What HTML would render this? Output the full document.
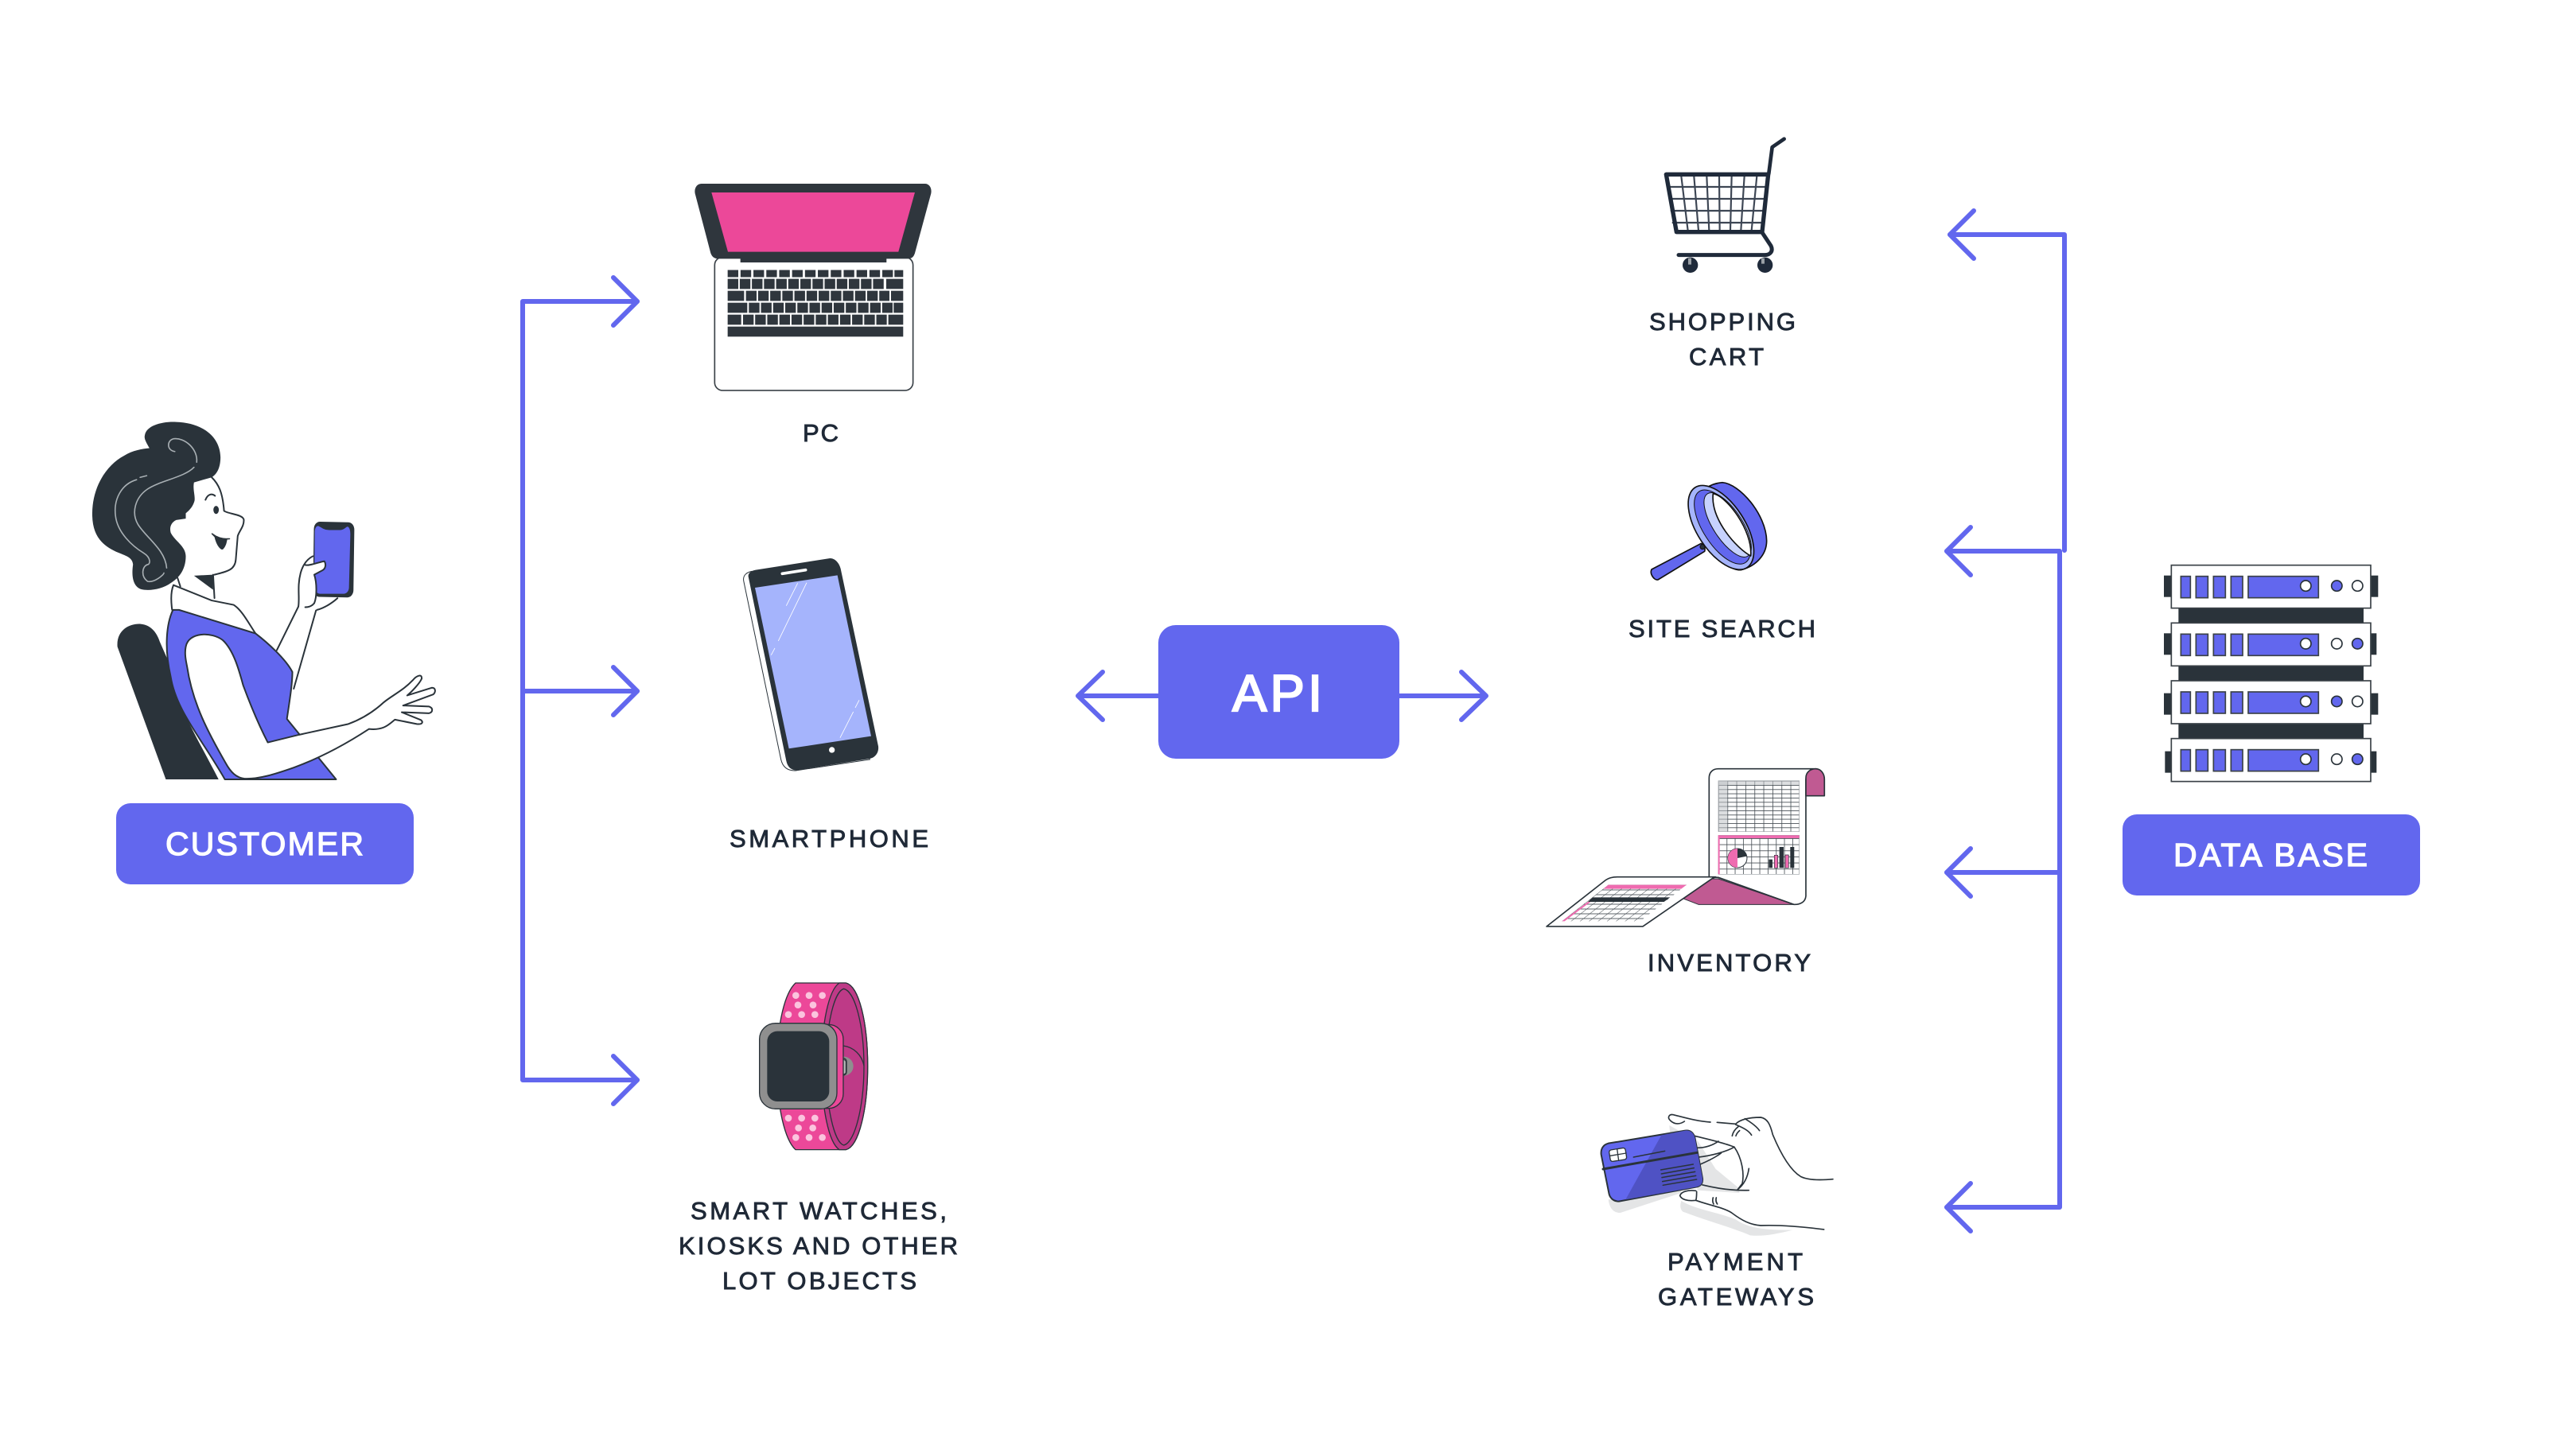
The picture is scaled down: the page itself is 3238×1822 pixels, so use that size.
<!DOCTYPE html>
<html>
<head>
<meta charset="utf-8">
<style>
html,body{margin:0;padding:0;background:#fff;}
svg{display:block;}
.l{font-family:"Liberation Sans",sans-serif;font-size:31px;fill:#1f2937;stroke:#1f2937;stroke-width:.9;}
.b{font-family:"Liberation Sans",sans-serif;font-size:41px;fill:#fff;stroke:#fff;stroke-width:1.3;}
.ns *{vector-effect:non-scaling-stroke;}
</style>
</head>
<body>
<svg xmlns="http://www.w3.org/2000/svg" width="3238" height="1822" viewBox="0 0 3238 1822">
<defs>
<pattern id="g1" width="34" height="16" patternUnits="userSpaceOnUse" x="660" y="95"><path d="M0 1.2H34M1.2 0V16" stroke="#444c52" stroke-width="2.4" fill="none"/></pattern>
<pattern id="g2" width="31" height="23" patternUnits="userSpaceOnUse" x="660" y="312"><path d="M0 1.2H31M1.2 0V23" stroke="#444c52" stroke-width="2.4" fill="none"/></pattern>
<pattern id="g3" width="34" height="18" patternUnits="userSpaceOnUse" patternTransform="translate(245 488) skewX(-52)"><path d="M0 1.2H34M1.2 0V18" stroke="#444c52" stroke-width="2.4" fill="none"/></pattern>
</defs>
<rect width="3238" height="1822" fill="#fff"/>

<!-- connectors -->
<g fill="none" stroke="#6267ee" stroke-width="6" stroke-linecap="round" stroke-linejoin="round">
<path d="M801 379H657V1358H801M657 869H801"/>
<path d="M771 349L801 379L771 409M771 839L801 869L771 899M771 1328L801 1358L771 1388"/>
<path d="M1456 875H1355M1386 845L1355 875L1386 905"/>
<path d="M1759 875H1868M1837 845L1868 875L1837 905"/>
<path d="M2451 295H2595V692M2447 693H2589V1518H2447M2447 1097H2589"/>
<path d="M2481 265L2451 295L2481 325M2477 663L2447 693L2477 723M2477 1067L2447 1097L2477 1127M2477 1488L2447 1518L2477 1548"/>
</g>

<!-- boxes -->
<rect x="146" y="1010" width="374" height="102" rx="18" fill="#6267ee"/>
<rect x="2668" y="1024" width="374" height="102" rx="18" fill="#6267ee"/>
<rect x="1456" y="786" width="303" height="168" rx="22" fill="#6267ee"/>
<text class="b" x="208" y="1075" textLength="249" lengthAdjust="spacing">CUSTOMER</text>
<text class="b" x="2732" y="1089" textLength="244" lengthAdjust="spacing">DATA BASE</text>
<text class="b" style="font-size:65px;stroke-width:2.2" x="1549" y="894" textLength="113" lengthAdjust="spacing">API</text>

<!-- labels -->
<text class="l" x="1009" y="555" textLength="45" lengthAdjust="spacing">PC</text>
<text class="l" x="917" y="1065" textLength="250" lengthAdjust="spacing">SMARTPHONE</text>
<text class="l" x="868" y="1533" textLength="322" lengthAdjust="spacing">SMART WATCHES,</text>
<text class="l" x="853" y="1577" textLength="351" lengthAdjust="spacing">KIOSKS AND OTHER</text>
<text class="l" x="908" y="1621" textLength="244" lengthAdjust="spacing">LOT OBJECTS</text>
<text class="l" x="2073" y="415" textLength="184" lengthAdjust="spacing">SHOPPING</text>
<text class="l" x="2123" y="459" textLength="94" lengthAdjust="spacing">CART</text>
<text class="l" x="2047" y="801" textLength="235" lengthAdjust="spacing">SITE SEARCH</text>
<text class="l" x="2071" y="1221" textLength="205" lengthAdjust="spacing">INVENTORY</text>
<text class="l" x="2096" y="1597" textLength="170" lengthAdjust="spacing">PAYMENT</text>
<text class="l" x="2084" y="1641" textLength="196" lengthAdjust="spacing">GATEWAYS</text>

<!-- customer -->
<g class="ns" transform="translate(60 480) scale(.3436 .4219)" stroke-linejoin="round" stroke-linecap="round">
<path d="M255 790C250 740 300 720 340 722C380 725 400 750 410 775L445 840C460 950 540 1050 625 1185H432Z" fill="#2a333a"/>
<path d="M838 800L917 670M982 680L900 915" fill="none" stroke="#2a333a" stroke-width="2"/>
<path d="M458 680C435 720 425 790 450 880C470 980 560 1060 648 1185H1055L920 1050L875 1005C885 950 895 900 895 865C870 825 800 775 760 750L480 678Z" fill="#6267ee" stroke="#2a333a" stroke-width="2"/>
<path d="M460 606L600 652L680 665C710 680 735 720 760 750L480 680H455C450 650 450 625 460 606Z" fill="#fff" stroke="#2a333a" stroke-width="2"/>
<path d="M535 300L600 285C625 305 640 330 645 385C665 395 710 395 717 410C720 430 700 445 695 460L688 530C685 560 660 565 610 575L535 578L475 590L450 500L445 430Z" fill="#fff"/>
<path d="M600 285C625 305 640 330 645 385C665 395 710 395 717 410C720 430 700 445 695 460L688 530C685 560 660 565 610 575" fill="none" stroke="#2a333a" stroke-width="2"/>
<path d="M535 578L605 575V620Z" fill="#2a333a"/>
<path d="M605 575L610 645M475 585L485 610" fill="none" stroke="#2a333a" stroke-width="2"/>
<path d="M355 160C360 130 420 118 470 120C560 122 630 160 632 225C632 255 620 275 600 285L535 300C530 320 540 340 537 355C530 375 515 385 505 392V408L470 412C450 420 445 435 450 450C465 475 505 490 505 520C505 560 480 585 450 600C420 618 370 625 340 618C315 610 305 585 312 545C310 525 290 520 260 510C200 490 165 460 163 400C160 320 210 250 280 220C310 205 345 200 372 198C360 180 352 170 355 160Z" fill="#2a333a"/>
<g fill="none" stroke="#a9b0b4" stroke-width="1.6">
<path d="M338 285L362 280M325 292C270 305 240 350 248 400C255 450 310 490 350 510C380 525 375 545 365 545C345 550 340 580 365 595C390 600 425 575 425 570"/>
<path d="M535 255C500 285 410 295 365 320C320 345 305 390 330 425C360 465 430 500 435 555"/>
<path d="M545 240C550 200 500 165 460 170C435 175 435 205 465 208"/>
</g>
<ellipse cx="616" cy="382" rx="10" ry="12" fill="#2a333a"/>
<path d="M577 352C585 335 600 332 612 340" fill="none" stroke="#2a333a" stroke-width="2"/>
<path d="M601 453C620 465 640 470 665 468H655C652 480 650 490 640 498C635 500 620 490 612 462Z" fill="#2a333a" stroke="#2a333a" stroke-width="1.5"/>
<path d="M505 790C515 745 600 745 640 770C680 800 700 860 715 905C740 960 770 1020 805 1075L920 1052L1100 1020C1150 1005 1190 985 1230 955C1260 935 1300 920 1335 890C1350 875 1370 870 1368 885C1360 900 1330 925 1315 935L1405 912C1420 912 1420 925 1410 932L1300 965L1395 968C1410 972 1410 985 1395 988L1295 985L1365 1008C1375 1015 1370 1022 1350 1020L1270 1007C1250 1020 1230 1040 1175 1035C1100 1075 1000 1120 900 1150C830 1170 770 1185 720 1183C690 1180 670 1165 650 1135C590 1050 530 960 510 850C505 830 500 810 505 790Z" fill="#fff" stroke="#2a333a" stroke-width="2"/>
<rect x="972" y="418" width="148" height="224" rx="22" fill="#2a333a" transform="rotate(1 1050 530)"/>
<path d="M990 430C1003 435 1010 442 1030 442H1070C1085 442 1090 432 1098 432C1105 435 1107 445 1107 455L1102 615C1100 628 1090 632 1080 632H995C982 630 975 620 975 610L977 445C979 432 985 430 990 430Z" fill="#6267ee"/>
<path d="M917 670C922 640 912 610 925 570C932 550 945 530 970 520L973 545L1012 535C1020 545 1015 558 1005 562L975 575C985 600 985 640 975 660L1060 645C1040 660 1010 675 982 680L917 670Z" fill="#fff"/>
<path d="M917 670C922 640 912 610 925 570C932 550 945 530 970 520M940 545C950 552 1000 535 1012 535C1020 545 1015 558 1005 562L975 575C985 600 985 640 975 660C965 670 950 672 942 672M985 680C1010 675 1040 660 1060 645" fill="none" stroke="#2a333a" stroke-width="2"/>
</g>

<!-- laptop -->
<g transform="translate(840 200) scale(.3333)">
<rect x="175" y="370" width="748" height="503" rx="30" fill="#fff" stroke="#3a4147" stroke-width="5"/>
<path d="M125 93H968C985 93 995 110 991 130L930 355C925 370 918 375 905 376H823V390H272V376H188C172 375 165 368 160 355L101 130C97 110 108 93 125 93Z" fill="#2f363d"/>
<polygon points="163,126 930,126 868,350 225,350" fill="#ec4899"/>
<g stroke="#2f363d" fill="none">
<line x1="224" x2="854" y1="432" y2="432" stroke-width="27" stroke-dasharray="40 8.6"/>
<rect x="853" y="419" width="33" height="26" fill="#2f363d" stroke="none"/>
<line x1="224" x2="815" y1="471" y2="471" stroke-width="38" stroke-dasharray="40 5.7"/>
<rect x="822" y="452" width="64" height="38" fill="#2f363d" stroke="none"/>
<rect x="224" y="497" width="62" height="38" fill="#2f363d" stroke="none"/>
<line x1="293" x2="834" y1="516" y2="516" stroke-width="38" stroke-dasharray="40 5.7"/>
<rect x="840" y="497" width="46" height="38" fill="#2f363d" stroke="none"/>
<rect x="224" y="542" width="74" height="38" fill="#2f363d" stroke="none"/>
<line x1="304" x2="846" y1="561" y2="561" stroke-width="38" stroke-dasharray="40 5.7"/>
<rect x="850" y="542" width="36" height="38" fill="#2f363d" stroke="none"/>
<rect x="224" y="587" width="51" height="38" fill="#2f363d" stroke="none"/>
<line x1="282" x2="824" y1="606" y2="606" stroke-width="38" stroke-dasharray="40 5.7"/>
<rect x="830" y="587" width="56" height="38" fill="#2f363d" stroke="none"/>
<rect x="224" y="632" width="662" height="38" fill="#2f363d" stroke="none"/>
</g>
</g>

<!-- phone -->
<g transform="translate(900 680) scale(.3333)">
<path d="M135 115C110 120 100 135 105 155L245 825C252 855 270 868 300 867L580 825L300 300Z" fill="#fff" stroke="#2a333a" stroke-width="3"/>
<path d="M150 110L430 66C450 66 465 85 470 105L612 775C615 800 600 818 580 822L310 865C285 868 270 855 265 830L122 135C120 122 135 112 150 110Z" fill="#2a333a"/>
<polygon points="147,177 458,130 585,737 275,784" fill="#a5b4fc"/>
<line x1="250" y1="124" x2="338" y2="110" stroke="#fff" stroke-width="11" stroke-linecap="round"/>
<circle cx="437" cy="789" r="11" fill="#fff"/>
<path d="M308 160L265 245M342 158L235 378M222 405L208 431M540 601L525 630M518 645L468 743" stroke="#fff" stroke-width="2.5" fill="none"/>
</g>

<!-- watch -->
<g transform="translate(920 1220) scale(.3333)" stroke="#2a333a" stroke-linejoin="round">
<path d="M240 48H430C480 60 512 200 512 362C512 520 480 665 430 677H240C200 640 170 520 170 360C170 200 200 85 240 48Z" fill="#ec4899" stroke-width="4"/>
<path d="M405 48H430C480 60 512 200 512 362C512 520 480 665 430 677H405C365 650 338 520 338 360C338 200 365 75 405 48Z" fill="#be3a87" stroke-width="4"/>
<path d="M422 70C465 80 498 210 498 362C498 510 465 650 422 660C385 650 355 510 355 362C355 210 385 80 422 70Z" fill="none" stroke-width="4"/>
<path d="M420 285C460 290 490 320 498 360" fill="none" stroke-width="4"/>
<g fill="#fbc4de" stroke="none">
<circle cx="241" cy="95" r="13"/><circle cx="291" cy="95" r="13"/><circle cx="341" cy="95" r="13"/>
<circle cx="249" cy="131" r="13"/><circle cx="306" cy="131" r="13"/>
<circle cx="213" cy="167" r="13"/><circle cx="263" cy="167" r="13"/><circle cx="313" cy="167" r="13"/>
<circle cx="213" cy="558" r="13"/><circle cx="263" cy="558" r="13"/><circle cx="313" cy="558" r="13"/>
<circle cx="251" cy="595" r="13"/><circle cx="305" cy="595" r="13"/>
<circle cx="241" cy="631" r="13"/><circle cx="291" cy="631" r="13"/><circle cx="341" cy="631" r="13"/>
</g>
<circle cx="422" cy="362" r="36" fill="#8f8f8f" stroke="none"/>
<rect x="398" y="332" width="34" height="64" rx="12" fill="#8f8f8f" stroke-width="4"/>
<rect x="414" y="338" width="16" height="54" rx="8" fill="#bbb" stroke-width="3"/>
<rect x="300" y="205" width="120" height="316" rx="55" fill="#ec4899" stroke-width="4"/>
<rect x="104" y="200" width="292" height="323" rx="60" fill="#8f8f8f" stroke-width="4"/>
<rect x="133" y="230" width="234" height="265" rx="38" fill="#2a333a" stroke="none"/>
</g>

<!-- cart -->
<g transform="translate(2080 160) scale(.3333)" fill="none" stroke="#1f2a3a" stroke-linejoin="round" stroke-linecap="round">
<path d="M100 185L125 390M148 185L165 390M196 185L205 390M243 185L245 390M290 185L285 390M338 185L325 390M385 185L365 390M50 225H422M56 270H418M62 315H412M68 360H408" stroke="#3d4654" stroke-width="6.5"/>
<path d="M43 178H428L405 395H82Z" stroke-width="16"/>
<path d="M430 175L443 75L488 44" stroke-width="14"/>
<path d="M405 397L438 447C448 468 435 482 415 482H90" stroke-width="15"/>
<circle cx="134" cy="520" r="29" fill="#1f2a3a" stroke="none"/>
<circle cx="416" cy="520" r="29" fill="#1f2a3a" stroke="none"/>
<path d="M132 494V518M408 494V515" stroke="#9aa0a6" stroke-width="12" stroke-linecap="butt"/>
</g>

<!-- magnifier -->
<g transform="translate(2070 590) scale(.3333)" stroke="#111" stroke-width="5" stroke-linejoin="round">
<path d="M18 378L205 280C215 285 222 300 218 310L42 417C28 420 10 395 18 378Z" fill="#6267ee"/>
<circle cx="210" cy="293" r="9" fill="#2a333a" stroke-width="3"/>
<path d="M175 160C175 100 225 55 285 50C350 55 450 170 452 270C452 320 415 365 355 380C290 385 175 240 175 160Z" fill="#6267ee"/>
<ellipse cx="280" cy="220" rx="90" ry="180" transform="rotate(-33 280 220)" fill="#a5b4fc"/>
<ellipse cx="285" cy="218" rx="72" ry="160" transform="rotate(-33 285 218)" fill="#6267ee" stroke-width="3"/>
<ellipse cx="305" cy="210" rx="55" ry="140" transform="rotate(-33 305 210)" fill="#c7d2fe" stroke-width="3"/>
<path d="M250 92C300 100 400 230 392 327C340 300 240 190 250 92Z" fill="#fff"/>
</g>

<!-- inventory -->
<g transform="translate(1940 950) scale(.3333)" stroke-linejoin="round">
<path d="M515 535L610 465H660L945 562H585Z" fill="#c05a92" stroke="#2a333a" stroke-width="3"/>
<path d="M625 458V85C625 62 640 50 660 50H1030L990 90V530C988 552 970 563 945 562L660 460Z" fill="#fff" stroke="#2a333a" stroke-width="5"/>
<path d="M990 152V85C990 62 1008 50 1027 50C1048 50 1060 70 1060 90V152Z" fill="#c05a92" stroke="#2a333a" stroke-width="5"/>
<rect x="660" y="95" width="305" height="192" fill="url(#g1)" stroke="#9a9fa3" stroke-width="2"/>
<rect x="660" y="95" width="34" height="192" fill="#bfc3c6" opacity=".55"/>
<rect x="660" y="95" width="305" height="16" fill="#bfc3c6" opacity=".55"/>
<rect x="660" y="301" width="305" height="147" fill="url(#g2)" stroke="#9a9fa3" stroke-width="2"/>
<rect x="660" y="301" width="305" height="11" fill="#ef6bb0"/>
<rect x="659" y="301" width="6" height="147" fill="#ef6bb0"/>
<circle cx="732" cy="387" r="36" fill="#fff" stroke="#2a333a" stroke-width="3"/>
<path d="M732 387V351A36 36 0 0 1 767 380Z" fill="#2a333a"/>
<path d="M732 387V423A36 36 0 0 1 732 351Z" fill="#ef6bb0"/>
<rect x="850" y="392" width="14" height="32" fill="#2a333a"/>
<rect x="871" y="376" width="13" height="48" fill="#ef6bb0" stroke="#2a333a" stroke-width="2"/>
<rect x="890" y="345" width="16" height="79" fill="#2a333a"/>
<rect x="912" y="375" width="13" height="49" fill="#ef6bb0" stroke="#2a333a" stroke-width="2"/>
<rect x="931" y="345" width="15" height="79" fill="#2a333a"/>
<path d="M12 645L235 470C245 462 260 458 280 458H650L640 462L375 645Z" fill="#fff" stroke="#2a333a" stroke-width="5"/>
<polygon points="245,488 540,488 365,625 70,625" fill="url(#g3)"/>
<polygon points="245,488 540,488 520,503 226,503" fill="#ef6bb0"/>
<polygon points="186,535 478,535 455,552 168,552" fill="#2a333a"/>
<polygon points="168,552 178,552 80,625 70,625" fill="#ef6bb0"/>
</g>

<!-- payment -->
<g transform="translate(2000 1390) scale(.3333)" stroke-linecap="round" stroke-linejoin="round">
<path d="M400 130L470 240L555 310L560 330L400 320Z" fill="#e4e5e6"/>
<path d="M295 75L340 100L300 130ZM65 355L335 300L340 330L110 405C85 405 70 390 65 355ZM340 360C400 395 470 400 545 430C590 460 640 470 760 470C700 485 650 495 600 490C530 460 420 430 345 400C335 390 335 375 340 360Z" fill="#e4e5e6"/>
<g fill="none" stroke="#2a333a" stroke-width="5">
<path d="M450 63C400 60 350 45 310 35C295 32 285 45 300 58C315 72 335 72 352 60M475 64L545 70C565 50 600 45 640 45C665 50 675 70 685 110C710 170 745 240 790 268C820 283 870 282 912 278"/>
<path d="M545 72C575 85 595 95 605 112M580 50C600 62 625 80 635 95M555 80C542 90 535 100 532 115M560 95C552 102 548 108 546 115"/>
<path d="M390 115C430 125 500 140 540 157C570 200 578 260 570 295L552 318M595 238C590 275 575 300 552 318"/>
<path d="M400 160C430 160 460 150 480 135M405 195C450 190 510 175 540 157M412 222C440 210 470 195 490 180"/>
<path d="M420 300C470 312 530 322 595 320M395 322C365 318 340 325 335 340C340 355 365 362 395 358M398 325C398 340 398 350 395 358M395 358C440 375 500 385 530 405C570 435 600 450 640 453C720 450 800 458 878 468M460 348C458 355 458 365 462 372M472 348C470 356 470 364 476 372"/>
</g>
<path d="M65 143L355 95C375 92 388 105 392 125L420 275C422 295 412 305 395 308L105 362C85 362 72 350 68 335L38 185C36 165 45 148 65 143Z" fill="#6267ee" stroke="#2a333a" stroke-width="6"/>
<path d="M130 355L265 112L355 95C375 92 388 105 392 125L420 275C422 295 412 305 395 308Z" fill="#4f52c4"/>
<path d="M45 240L400 178" stroke="#2a333a" stroke-width="9" fill="none"/>
<rect x="70" y="164" width="62" height="44" rx="9" fill="#fff" stroke="#2a333a" stroke-width="4" transform="rotate(-9 100 186)"/>
<path d="M98 164L104 208M72 190L132 180" stroke="#2a333a" stroke-width="4"/>
<path d="M160 195L278 172M263 243L385 222M265 258L388 236M267 272L392 250M269 287L395 265M271 301L398 279" stroke="#2a333a" stroke-width="4.5" fill="none"/>
</g>

<!-- servers -->
<g transform="translate(2710 700) scale(.3333)" stroke-linejoin="miter">
<rect x="85" y="190" width="698" height="64" fill="#2a333a"/>
<rect x="85" y="408" width="698" height="64" fill="#2a333a"/>
<rect x="85" y="626" width="698" height="64" fill="#2a333a"/>
<g fill="#2a333a">
<rect x="30" y="71" width="30" height="81"/><rect x="808" y="71" width="30" height="81"/>
<rect x="30" y="289" width="30" height="81"/><rect x="808" y="289" width="24" height="81"/>
<rect x="30" y="515" width="30" height="81"/><rect x="808" y="515" width="30" height="81"/>
<rect x="34" y="734" width="26" height="81"/><rect x="808" y="734" width="24" height="81"/>
</g>
<g fill="#fff" stroke="#3a4147" stroke-width="5">
<rect x="58" y="32" width="752" height="162"/><rect x="58" y="250" width="752" height="162"/>
<rect x="58" y="468" width="752" height="162"/><rect x="58" y="686" width="752" height="162"/>
</g>
<g fill="#6267ee" stroke="#3a4147" stroke-width="5">
<rect x="94" y="74" width="36" height="81"/><rect x="151" y="74" width="45" height="81"/><rect x="217" y="74" width="45" height="81"/><rect x="283" y="74" width="44" height="81"/><rect x="348" y="74" width="265" height="81"/>
<rect x="94" y="292" width="36" height="81"/><rect x="151" y="292" width="45" height="81"/><rect x="217" y="292" width="45" height="81"/><rect x="283" y="292" width="44" height="81"/><rect x="348" y="292" width="265" height="81"/>
<rect x="94" y="510" width="36" height="81"/><rect x="151" y="510" width="45" height="81"/><rect x="217" y="510" width="45" height="81"/><rect x="283" y="510" width="44" height="81"/><rect x="348" y="510" width="265" height="81"/>
<rect x="94" y="728" width="36" height="81"/><rect x="151" y="728" width="45" height="81"/><rect x="217" y="728" width="45" height="81"/><rect x="283" y="728" width="44" height="81"/><rect x="348" y="728" width="265" height="81"/>
</g>
<g stroke="#2a333a" stroke-width="5" fill="#fff">
<circle cx="565" cy="110" r="20"/><circle cx="565" cy="328" r="20"/><circle cx="565" cy="546" r="20"/><circle cx="565" cy="764" r="20"/>
<circle cx="682" cy="110" r="20" fill="#6267ee"/><circle cx="760" cy="110" r="20"/>
<circle cx="682" cy="328" r="20"/><circle cx="760" cy="328" r="20" fill="#6267ee"/>
<circle cx="682" cy="546" r="20" fill="#6267ee"/><circle cx="760" cy="546" r="20"/>
<circle cx="682" cy="764" r="20"/><circle cx="760" cy="764" r="20" fill="#6267ee"/>
</g>
</g>
</svg>
</body>
</html>
